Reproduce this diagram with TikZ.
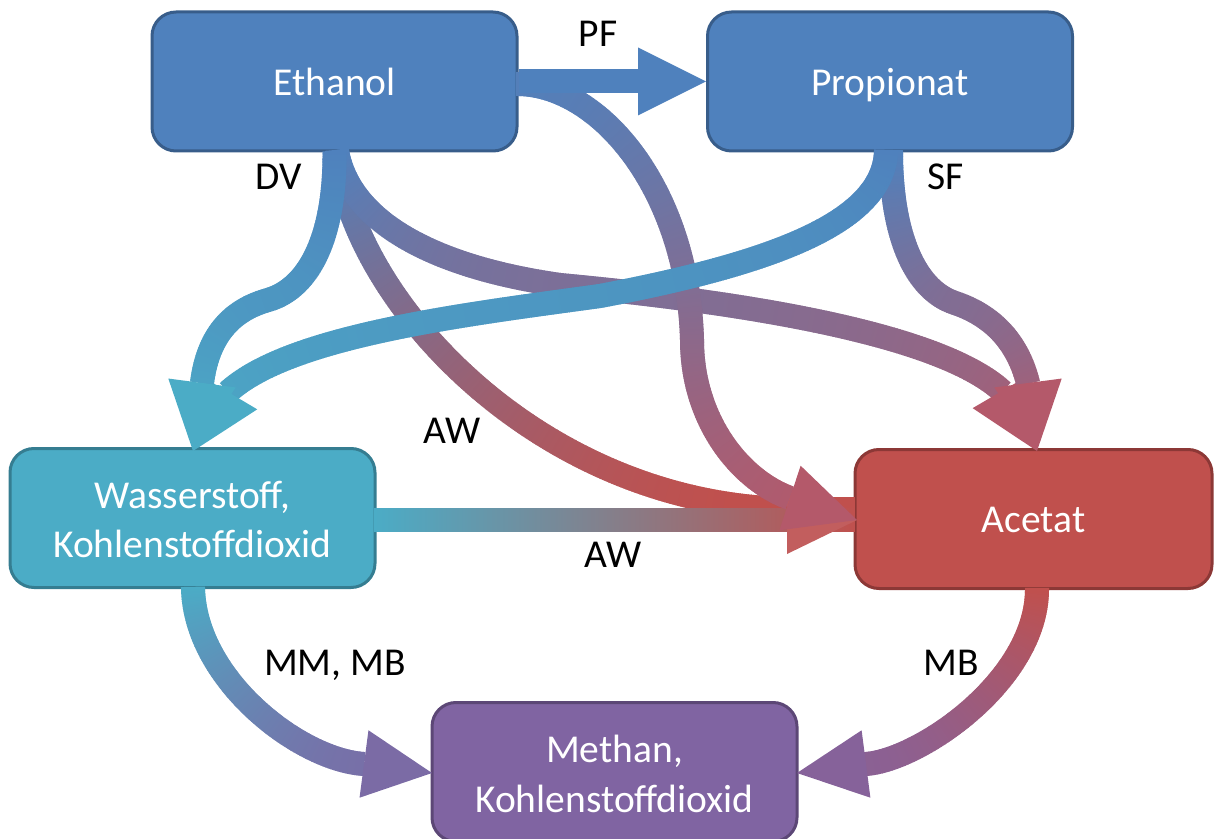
\documentclass[tikz,border=0pt]{standalone}
\usepackage{fontspec}
\setmainfont{Carlito}
\usetikzlibrary{decorations.markings,calc}

\definecolor{cBlue}{HTML}{4F81BD}
\definecolor{cBlueD}{HTML}{385D8A}
\definecolor{cAqua}{HTML}{4BACC6}
\definecolor{cAquaD}{HTML}{357D91}
\definecolor{cRed}{HTML}{C0504D}
\definecolor{cRedD}{HTML}{8C3836}
\definecolor{cPurp}{HTML}{8064A2}
\definecolor{cPurpD}{HTML}{5C4776}
\definecolor{cPink}{HTML}{B4596A}
\definecolor{cHHead}{HTML}{C25E5E}

\newif\ifgradx
\def\gA{cBlue}\def\gB{cRed}\def\gLo{0}\def\gHi{1}
\newcommand\gradset[5]{\def\gA{#1}\def\gB{#2}\if x#3\gradxtrue\else\gradxfalse\fi\def\gLo{#4}\def\gHi{#5}}
\newcommand\gradmark{%
  \pgfgettransformentries{\gta}{\gtb}{\gtc}{\gtd}{\gtx}{\gty}%
  \ifgradx\pgfmathsetmacro\gv{2*(\gtx)}\else\pgfmathsetmacro\gv{-2*(\gty)}\fi
  \pgfmathsetmacro\gq{(\gv-\gLo)/(\gHi-\gLo)}%
  \pgfmathsetmacro\gp{max(0,min(100,\gq*100))}%
  \colorlet{gcur}{\gB!\gp!\gA}%
  \pgfsetlinewidth{12pt}\pgfsetbuttcap\pgfsetstrokecolor{gcur}%
  \pgfpathmoveto{\pgfqpoint{-0.6pt}{0pt}}\pgfpathlineto{\pgfqpoint{0.6pt}{0pt}}\pgfusepath{stroke}%
}
\newcommand\ahead[3]{\fill[#1] (#3) -- ($(#2)!17pt!90:(#3)$) -- ($(#2)!17pt!-90:(#3)$) -- cycle;}

\tikzset{
  box/.style 2 args={fill=#1, draw=#2, line width=1.5pt, rounded corners=12pt,
    minimum width=182.5pt, minimum height=69.5pt, inner sep=0pt},
  lab/.style={font=\fontsize{19.75pt}{24pt}\selectfont, anchor=base, inner sep=0pt},
  intext/.style={lab, text=white},
  gradbody/.style={decorate, decoration={markings,
     mark=between positions 0 and 1 step 0.8pt with {\gradmark}}},
}

\begin{document}
\begin{tikzpicture}[x=0.5pt,y=-0.5pt]
\useasboundingbox (0,0) rectangle (1215,839);

% boxes
\node[box={cBlue}{cBlueD}] (eth) at (334.5,81.5) {};
\node[box={cBlue}{cBlueD}] (pro) at (890,81.5) {};
\node[box={cAqua}{cAquaD}] (was) at (192.5,518) {};
\node[box={cRed}{cRedD}, minimum width=178.5pt] (ace) at (1033.5,519) {};
\node[box={cPurp}{cPurpD}] (met) at (614.5,772) {};

% connector points
\coordinate (ethS1) at (337,151);
\coordinate (ethE2) at (517,84);
\coordinate (proS1) at (886,151);
\coordinate (proS2) at (891,151);
\coordinate (wasE) at (375,520);
\coordinate (wasS) at (193,588);
\coordinate (aceS) at (1037,589);
\coordinate (aceW) at (855,520);
\coordinate (aceWd) at (855,509);
\coordinate (tipW) at (193,451);
\coordinate (tipA) at (1037,451);
\coordinate (tipAL) at (857,520);
\coordinate (tipMl) at (432,773);
\coordinate (tipMr) at (797,773);
\coordinate (kB) at (268,300);
\coordinate (kG) at (955,303);
\coordinate (mC) at (560,285);
\coordinate (mE) at (692,340);
\coordinate (mF) at (600,296);
\coordinate (bPF) at (638,81.5);
\coordinate (bB) at (202,383);
\coordinate (bC) at (1002,391);
\coordinate (bE) at (790,498);
\coordinate (bF) at (228,392);
\coordinate (bG) at (1028,383);
\coordinate (bH) at (787,520);
\coordinate (bI) at (364,764);
\coordinate (bJ) at (866,764);

% d: Ethanol -> Acetat (AW, lower curve)
\gradset{cBlue}{cRed}{y}{151}{505}
\path[gradbody] (ethS1) .. controls (350,300) and (540,505) .. (790,509) -- (aceWd);
% c: Ethanol -> Acetat top
\gradset{cBlue}{cPink}{y}{151}{452}
\path[gradbody] (ethS1) .. controls (350,225) and (440,268) .. (mC)
  .. controls (720,300) and (935,330) .. (bC);
\ahead{cPink}{bC}{tipA}
% h: Wasserstoff -> Acetat
\gradset{cAqua}{cRed}{x}{375}{857}
\path[gradbody] (wasE) -- (aceW);
\ahead{cHHead}{bH}{tipAL}
% e: Ethanol -> Acetat (big arc)
\gradset{cBlue}{cPink}{y}{60}{520}
\path[gradbody] (ethE2) .. controls (600,84) and (688,190) .. (mE)
  .. controls (692,420) and (740,480) .. (bE);
\ahead{cPink}{bE}{tipAL}
% g: Propionat -> Acetat
\gradset{cBlue}{cPink}{y}{151}{452}
\path[gradbody] (proS2) .. controls (891,235) and (915,290) .. (kG)
  .. controls (985,313) and (1016,335) .. (bG);
\ahead{cPink}{bG}{tipA}
% f: Propionat -> Wasserstoff
\gradset{cBlue}{cAqua}{y}{151}{452}
\path[gradbody] (proS1) .. controls (884,220) and (780,262) .. (mF)
  .. controls (470,314) and (290,335) .. (bF);
\ahead{cAqua}{bF}{tipW}
% b: Ethanol -> Wasserstoff
\gradset{cBlue}{cAqua}{y}{151}{452}
\path[gradbody] (eth.south) .. controls (335,235) and (310,288) .. (kB)
  .. controls (232,310) and (208,335) .. (bB);
\ahead{cAqua}{bB}{tipW}
% PF: Ethanol -> Propionat
\draw[cBlue, line width=12pt] (eth.east) -- (bPF);
\ahead{cBlue}{bPF}{pro.west}
% i: Wasserstoff -> Methan
\gradset{cAqua}{cPurp}{y}{588}{800}
\path[gradbody] (wasS) .. controls (195,680) and (300,760) .. (bI);
\ahead{cPurp!90!cAqua}{bI}{tipMl}
% j: Acetat -> Methan
\gradset{cRed}{cPurp}{y}{589}{800}
\path[gradbody] (aceS) .. controls (1037,680) and (920,760) .. (bJ);
\ahead{cPurp!90!cRed}{bJ}{tipMr}

% box texts
\node[intext] (tEth) at (334.5,95.5) {Ethanol};
\node[intext] (tPro) at (890,95.5) {Propionat};
\node[intext] (tWas1) at (192.5,508) {Wasserstoff,};
\node[intext] (tWas2) at (192.5,557) {Kohlenstoffdioxid};
\node[intext] (tAce) at (1033.5,532.5) {Acetat};
\node[intext] (tMet1) at (614.5,762) {Methan,};
\node[intext] (tMet2) at (614.5,812) {Kohlenstoffdioxid};

% connector labels
\node[lab] (lPF) at (598,47) {PF};
\node[lab] (lDV) at (279,190) {DV};
\node[lab] (lSF) at (946,190) {SF};
\node[lab] (lAW1) at (452,444) {AW};
\node[lab] (lAW2) at (613,567) {AW};
\node[lab] (lMM) at (335,675) {MM, MB};
\node[lab] (lMB) at (951,675) {MB};
\end{tikzpicture}
\end{document}
